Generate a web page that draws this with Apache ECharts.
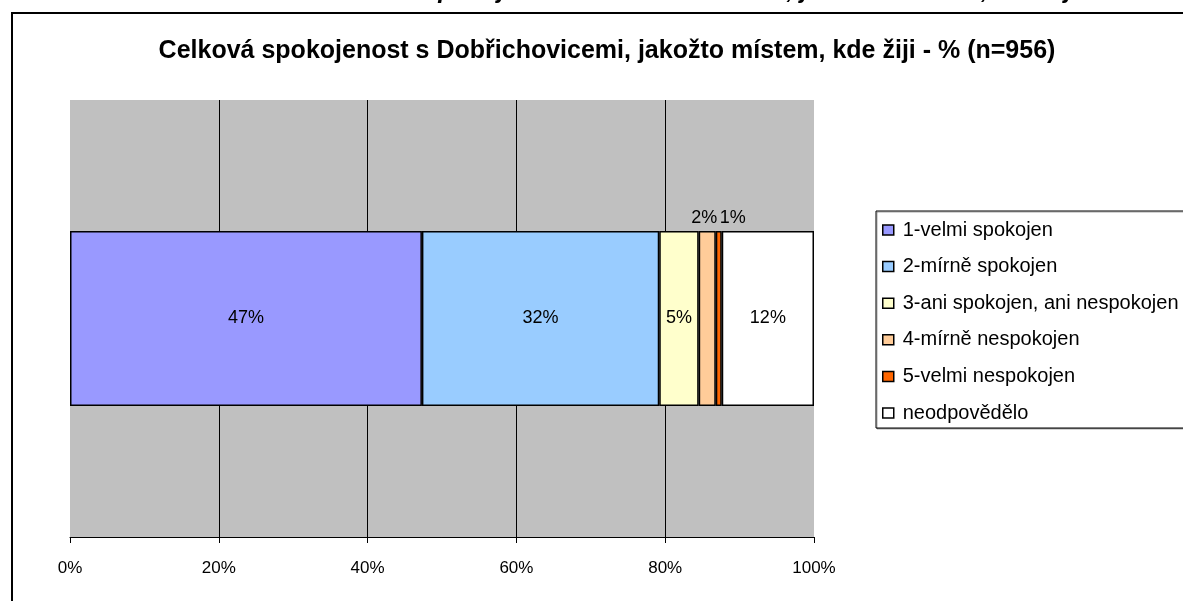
<!DOCTYPE html>
<html>
<head>
<meta charset="utf-8">
<script src="https://cdn.jsdelivr.net/npm/echarts@6/dist/echarts.min.js"></script>
<style>
  html, body { margin: 0; padding: 0; background: #fff; }
  #main { width: 1183px; height: 601px; }
</style>
</head>
<body>
<div id="main"></div>
<script>
  // data (percent of respondents)
  var categories = ['spokojenost'];
  var seriesNames = ['1-velmi spokojen', '2-mírně spokojen', '3-ani spokojen, ani nespokojen',
    '4-mírně nespokojen', '5-velmi nespokojen', 'neodpovědělo'];
  var seriesValues = [47.3, 31.9, 5.3, 2.3, 0.8, 12.4];
  var seriesColors = ['#9999FF', '#99CCFF', '#FFFFCC', '#FFCC99', '#FF6600', '#FFFFFF'];
  var xTicks = [0, 20, 40, 60, 80, 100];

  var chart = echarts.init(document.getElementById('main'));
  var font = 'Arial, "Liberation Sans", sans-serif';

  // labels of the thin slices sit above the bar
  var outsideLabel = { 3: [-3, 0], 4: [14, 0] };

  var series = seriesNames.map(function (name, i) {
    var lab = {
      show: true,
      position: outsideLabel[i] ? 'top' : 'inside',
      distance: 4,
      color: '#000',
      fontFamily: font,
      fontSize: 18,
      formatter: function (p) { return Math.round(p.value) + '%'; }
    };
    if (outsideLabel[i]) lab.offset = outsideLabel[i];
    return {
      name: name,
      type: 'bar',
      stack: 'total',
      barWidth: 175,
      data: [seriesValues[i]],
      itemStyle: { color: seriesColors[i], borderColor: '#000', borderWidth: 1.5 },
      label: lab,
      emphasis: { disabled: true }
    };
  });

  var option = {
    animation: false,
    backgroundColor: '#fff',
    grid: {
      left: 70, right: 369, top: 100, bottom: 64,
      show: true, backgroundColor: '#C0C0C0', borderWidth: 0
    },
    xAxis: {
      type: 'value',
      min: xTicks[0],
      max: xTicks[xTicks.length - 1],
      interval: xTicks[1] - xTicks[0],
      axisLine: { show: true, lineStyle: { color: '#000', width: 1 } },
      axisTick: { show: true, length: 6, lineStyle: { color: '#000' } },
      axisLabel: { margin: 23, color: '#000', fontFamily: font, fontSize: 17, formatter: '{value}%' },
      splitLine: { show: true, showMinLine: false, showMaxLine: false, lineStyle: { color: '#000', width: 1 } }
    },
    yAxis: {
      type: 'category',
      data: categories,
      axisLine: { show: false },
      axisTick: { show: false },
      axisLabel: { show: false }
    },
    legend: {
      orient: 'vertical',
      left: 876,
      top: 211,
      padding: [9, 30, 5, 6],
      itemGap: 16.6,
      itemWidth: 11,
      itemHeight: 10,
      icon: 'rect',
      borderColor: '#000',
      borderWidth: 1,
      backgroundColor: '#fff',
      shadowColor: 'rgba(0,0,0,0.35)',
      shadowOffsetX: 1,
      shadowOffsetY: 1,
      itemStyle: { borderColor: '#000', borderWidth: 1.5 },
      textStyle: { color: '#000', fontFamily: font, fontSize: 20, lineHeight: 20, padding: [0, 0, 0, 4] },
      selectedMode: false,
      data: seriesNames
    },
    graphic: [
      {
        type: 'rect',
        silent: true,
        shape: { x: 12, y: 13, width: 1220, height: 640 },
        style: { fill: 'none', stroke: '#000', lineWidth: 2 }
      },
      {
        type: 'text',
        silent: true,
        x: 700, y: -9,
        style: {
          text: 'Celková spokojenost s Dobřichovicemi, jakožto místem, kde žiji',
          fill: '#000',
          font: 'italic bold 25px ' + font,
          textAlign: 'center',
          textVerticalAlign: 'middle'
        }
      },
      {
        type: 'text',
        silent: true,
        x: 607, y: 51,
        style: {
          text: 'Celková spokojenost s Dobřichovicemi, jakožto místem, kde žiji - % (n=956)',
          fill: '#000',
          font: 'bold 25px ' + font,
          textAlign: 'center',
          textVerticalAlign: 'middle'
        }
      }
    ],
    series: series
  };

  chart.setOption(option);
</script>
</body>
</html>
